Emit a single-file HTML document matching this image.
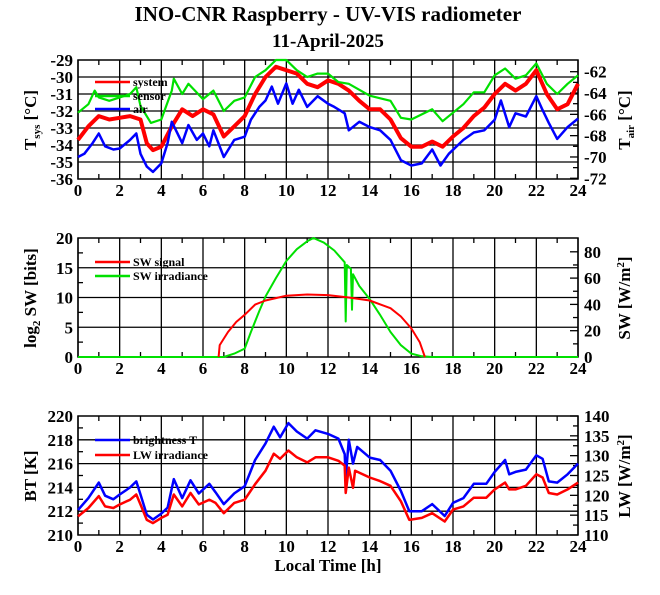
<!DOCTYPE html>
<html><head><meta charset="utf-8">
<style>
html,body{margin:0;padding:0;background:#fff;}
svg{display:block;font-family:"Liberation Serif",serif;font-weight:bold;}
</style></head>
<body>
<svg id="chart" width="660" height="595" viewBox="0 0 660 595" xmlns="http://www.w3.org/2000/svg">
<text x="328" y="21" font-size="21" text-anchor="middle">INO-CNR Raspberry - UV-VIS radiometer</text>
<text x="328" y="47" font-size="19" text-anchor="middle">11-April-2025</text>
<g id="g1"></g>
<g id="g2"></g>
<g id="g3"></g>
<text x="328" y="571" font-size="17" text-anchor="middle">Local Time [h]</text>
</svg>
<script>
// ---- Panel 1 data ----
const sysT = [0,0.5,1,1.5,2,2.5,3,3.3,3.6,4,4.5,5,5.5,6,6.5,7,7.5,8,8.5,9,9.5,10,10.5,11,11.5,12,12.5,13,13.5,14,14.5,15,15.5,16,16.5,17,17.5,18,18.5,19,19.5,20,20.5,21,21.5,22,22.5,23,23.5,24];
const sysV = [-33.7,-32.9,-32.3,-32.5,-32.4,-32.3,-32.5,-33.9,-34.3,-34.1,-32.9,-31.9,-32.3,-31.9,-32.2,-33.5,-32.9,-32.3,-31.0,-30.0,-29.4,-29.6,-29.8,-30.4,-30.6,-30.2,-30.4,-30.8,-31.4,-31.9,-31.9,-32.5,-33.6,-34.1,-34.1,-33.8,-34.1,-33.5,-33.0,-32.3,-31.8,-31.0,-30.4,-30.8,-30.4,-29.6,-31.0,-31.9,-31.6,-30.4];
const senT = [0,0.5,0.8,1,1.5,2,2.5,2.8,3,3.5,4,4.5,4.6,5,5.3,6,6.5,7,7.5,8,8.5,9,9.5,10,10.5,11,11.5,12,12.5,13,14,15,15.5,16,17,17.5,18,18.5,19,19.5,20,20.5,21,21.5,22,22.5,23,23.5,24];
const senV = [-32.1,-31.6,-30.8,-31.2,-31.4,-31.2,-31.0,-30.6,-31.7,-32.7,-32.5,-30.8,-30.1,-31.0,-30.4,-31.3,-30.8,-32.0,-31.4,-31.2,-30.0,-29.6,-29.0,-29.0,-29.6,-30.0,-29.8,-29.8,-30.3,-30.4,-31.1,-31.4,-32.4,-32.5,-31.9,-32.6,-32.1,-31.6,-30.9,-30.9,-29.9,-29.5,-30.1,-29.9,-29.2,-30.4,-31.0,-30.4,-29.9];
const airT = [0,0.3,0.7,1,1.3,1.7,2,2.5,2.8,3,3.3,3.6,4,4.3,4.5,5,5.3,5.7,6,6.3,6.5,7,7.5,8,8.3,8.7,9,9.3,9.6,10,10.3,10.6,11,11.5,12,12.3,12.8,13,13.5,14,14.5,15,15.5,16,16.5,17,17.4,17.8,18.5,19,19.5,20,20.3,20.7,21,21.5,22,22.3,22.6,23,23.5,24];
const airV = [-70.0,-69.7,-68.7,-67.8,-69.0,-69.3,-69.2,-68.4,-67.8,-69.7,-70.9,-71.4,-70.6,-68.7,-66.7,-68.7,-67.0,-68.4,-67.8,-69.0,-67.5,-70.0,-68.4,-68.1,-66.5,-65.3,-64.7,-63.4,-65.0,-63.1,-65.0,-63.7,-65.3,-64.3,-65.0,-65.3,-65.9,-67.5,-66.7,-67.2,-67.5,-68.4,-70.3,-70.8,-70.6,-69.3,-70.8,-69.7,-68.4,-67.7,-67.5,-66.5,-64.7,-67.2,-65.9,-66.2,-64.3,-65.6,-66.8,-68.3,-67.2,-66.4];
const p1LeftTicks = ["-29","-30","-31","-32","-33","-34","-35","-36"];
const p1RightTicks = ["-62","-64","-66","-68","-70","-72"];
// ---- Panel 2 data ----
const swsT = [6.75,6.8,7.2,7.6,8,8.5,9,9.5,10,11,12,13,14,15,15.5,16,16.4,16.65];
const swsV = [0,2.0,4.2,5.9,7.1,8.8,9.5,9.9,10.3,10.5,10.4,10.0,9.5,8.2,6.8,4.8,2.5,0];
const swiT = [0,7,7.5,8,8.3,8.7,9,9.5,10,10.5,11,11.3,11.8,12.3,12.8,12.85,12.9,13.1,13.15,13.2,13.5,14,14.5,15,15.5,16,16.5,17,24];
const swiV = [0,0,2.6,6.4,19,35,46,60,73,82,88,90.5,87,81,72,27,70,67,36,63,54,44,32,19,9,2.6,0.5,0,0];
const p2LeftTicks = ["0","5","10","15","20"];
const p2RightTicks = ["0","20","40","60","80"];
// ---- Panel 3 data ----
const bt = [0,0.5,1,1.3,1.7,2,2.5,2.8,3,3.3,3.6,4,4.3,4.6,5,5.4,5.8,6.3,6.6,7,7.5,8,8.5,9,9.4,9.7,10.1,10.5,11,11.4,12,12.5,12.8,12.85,13,13.2,13.4,14,14.5,15,15.5,15.9,16.5,17,17.6,18,18.5,19,19.6,20,20.5,20.7,21,21.5,22,22.3,22.6,23,23.5,24];
const btV = [212.1,213.1,214.4,213.3,213.0,213.4,214.0,214.5,213.4,211.7,211.3,211.8,212.3,214.7,213.1,214.6,213.5,214.3,213.6,212.6,213.5,214.1,216.3,217.7,219.1,218.2,219.4,218.7,218.1,218.8,218.5,218.1,216.8,214.8,218.0,216.0,217.4,216.5,216.3,215.4,213.7,212.0,212.0,212.6,211.6,212.7,213.1,214.3,214.3,215.3,216.3,215.1,215.3,215.5,216.7,216.4,214.5,214.4,215.1,216.0];
const lwT = [0,0.5,1,1.3,1.7,2,2.5,2.8,3,3.3,3.6,4,4.3,4.6,5,5.4,5.8,6.3,6.6,7,7.5,8,8.5,9,9.4,9.7,10.1,10.5,11,11.4,12,12.5,12.8,12.85,13,13.2,13.3,14,14.5,15,15.5,15.9,16.5,17,17.6,18,18.5,19,19.6,20,20.5,20.7,21,21.5,22,22.3,22.6,23,23.5,24];
const lwV = [114.7,116.8,119.8,117.2,116.8,117.7,118.9,120.2,117.7,113.8,113.0,114.3,115.1,120.2,117.2,120.6,117.7,118.9,118.1,115.5,118.1,118.9,122.8,126.2,130.5,129.2,131.3,129.6,128.3,129.6,129.6,128.7,127.5,120.6,127.0,121.9,126.2,124.5,123.6,122.4,118.5,113.8,114.3,115.5,113.4,116.4,117.2,119.4,119.4,121.5,123.2,121.5,121.5,122.4,125.3,124.5,120.6,120.2,121.5,123.2];
const p3LeftTicks = ["210","212","214","216","218","220"];
const p3RightTicks = ["110","115","120","125","130","135","140"];
const xTicks = ["0","2","4","6","8","10","12","14","16","18","20","22","24"];

const NS="http://www.w3.org/2000/svg";
const X0=78, X1=578;
function xs(t){return X0+(t/24)*(X1-X0);}
function mk(parent,tag,attrs){const e=document.createElementNS(NS,tag);for(const k in attrs)e.setAttribute(k,attrs[k]);parent.appendChild(e);return e;}
function lin(d0,d1,r0,r1){return v=>r0+(v-d0)/(d1-d0)*(r1-r0);}

function frame(g,top,bot,ly,yLabels,ry,rLabels,gridVals,minorL,minorR){
  for(const v of gridVals){const l=mk(g,'line',{x1:X0,x2:X1,y1:ly(v),y2:ly(v),stroke:'#000','stroke-width':1.3});
    
    }
  for(let i=0;i<xTicks.length;i++){const x=xs(+xTicks[i]);const l=mk(g,'line',{x1:x,x2:x,y1:top,y2:bot,stroke:'#000','stroke-width':1.3});
    
    
    const t=mk(g,'text',{x:x,y:bot+17,'font-size':17,'text-anchor':'middle'});t.textContent=xTicks[i];
    
    }
  for(let h=1;h<24;h+=2){const x=xs(h);mk(g,'line',{x1:x,x2:x,y1:top,y2:top+5,stroke:'#000','stroke-width':1.3});mk(g,'line',{x1:x,x2:x,y1:bot,y2:bot-5,stroke:'#000','stroke-width':1.3});}
  for(const v of minorL){mk(g,'line',{x1:X0,x2:X0+5,y1:ly(v),y2:ly(v),stroke:'#000','stroke-width':1.3});}
  for(const v of minorR){mk(g,'line',{x1:X1,x2:X1-5,y1:ry(v),y2:ry(v),stroke:'#000','stroke-width':1.3});}
  for(const s of yLabels){const t=mk(g,'text',{x:X0-5,y:ly(+s)+6,'font-size':17,'text-anchor':'end'});t.textContent=s;
    
    }
  for(const s of rLabels){mk(g,'line',{x1:X1,x2:X1-8,y1:ry(+s),y2:ry(+s),stroke:'#000','stroke-width':1.3});
    const t=mk(g,'text',{x:X1+6,y:ry(+s)+6,'font-size':17,'text-anchor':'start'});t.textContent=s;
    
    }
  const r=mk(g,'rect',{x:X0,y:top,width:X1-X0,height:bot-top,fill:'none',stroke:'#000','stroke-width':1.5});
  
  
}
function series(g,T,V,ys,color,w,name){
  let d='';for(let i=0;i<T.length;i++)d+=(i?'L':'M')+xs(T[i]).toFixed(1)+','+ys(V[i]).toFixed(1);
  const p=mk(g,'path',{d:d,fill:'none',stroke:color,'stroke-width':w,'stroke-linejoin':'round'});
  
  
}
function legend(g,x,y,color,label,name){
  mk(g,'line',{x1:x,x2:x+35,y1:y,y2:y,stroke:color,'stroke-width':2.5});
  const t=mk(g,'text',{x:x+38,y:y+4,'font-size':12});t.textContent=label;
  
  
}
function vtitle(g,x,y,html,name){
  const t=mk(g,'text',{x:x,y:y,'font-size':17,'text-anchor':'middle',transform:'rotate(-90 '+x+' '+y+')'});
  t.innerHTML=html;
  
  
}
// Panel 1
(function(){
  const g=document.getElementById('g1');const top=60,bot=179;
  const ly=lin(-29,-36,top,bot); const ry=lin(-62,-72,71.7,178.3);
  frame(g,top,bot,ly,p1LeftTicks,ry,p1RightTicks,[-30,-31,-32,-33,-34,-35],[],[-63,-65,-67,-69,-71]);
  series(g,sysT,sysV,ly,'#ff0000',4,'system-series');
  series(g,senT,senV,ly,'#00e000',2.2,'sensor-series');
  series(g,airT,airV,ry,'#0000ff',2.5,'air-series');
  legend(g,95,82,'#ff0000','system','legend-system');
  legend(g,95,96,'#00e000','sensor','legend-sensor');
  legend(g,95,109,'#0000ff','air','legend-air');
  vtitle(g,36,120,'T<tspan font-size="11" dy="4">sys</tspan><tspan dy="-4"> [°C]</tspan>','left-y-axis-title');
  vtitle(g,630,120,'T<tspan font-size="11" dy="4">air</tspan><tspan dy="-4"> [°C]</tspan>','right-y-axis-title');
})();
// Panel 2
(function(){
  const g=document.getElementById('g2');const top=238,bot=357;
  const ly=lin(0,20,bot,top); const ry=lin(0,90.5,bot,top);
  frame(g,top,bot,ly,p2LeftTicks,ry,p2RightTicks,[5,10,15],[2.5,7.5,12.5,17.5],[10,30,50,70]);
  series(g,swiT,swiV,ry,'#00e000',2,'sw-irradiance-series');
  series(g,swsT,swsV,ly,'#ff0000',2,'sw-signal-series');
  legend(g,95,262,'#ff0000','SW signal','legend-sw-signal');
  legend(g,95,276,'#00e000','SW irradiance','legend-sw-irradiance');
  vtitle(g,36,298,'log<tspan font-size="11" dy="4">2</tspan><tspan dy="-4"> SW [bits]</tspan>','left-y-axis-title');
  vtitle(g,630,298,'SW [W/m<tspan font-size="11" dy="-6">2</tspan><tspan dy="6">]</tspan>','right-y-axis-title');
})();
// Panel 3
(function(){
  const g=document.getElementById('g3');const top=416,bot=535;
  const ly=lin(210,220,bot,top); const ry=lin(110,140,bot,top);
  frame(g,top,bot,ly,p3LeftTicks,ry,p3RightTicks,[212,214,216,218],[211,213,215,217,219],[112.5,117.5,122.5,127.5,132.5,137.5]);
  series(g,bt,btV,ly,'#0000ff',2.5,'brightness-t-series');
  series(g,lwT,lwV,ry,'#ff0000',2.5,'lw-irradiance-series');
  legend(g,95,440,'#0000ff','brightness T','legend-brightness-t');
  legend(g,95,455,'#ff0000','LW irradiance','legend-lw-irradiance');
  vtitle(g,36,476,'BT [K]','left-y-axis-title');
  vtitle(g,630,476,'LW [W/m<tspan font-size="11" dy="-6">2</tspan><tspan dy="6">]</tspan>','right-y-axis-title');
})();
</script>
</body></html>
